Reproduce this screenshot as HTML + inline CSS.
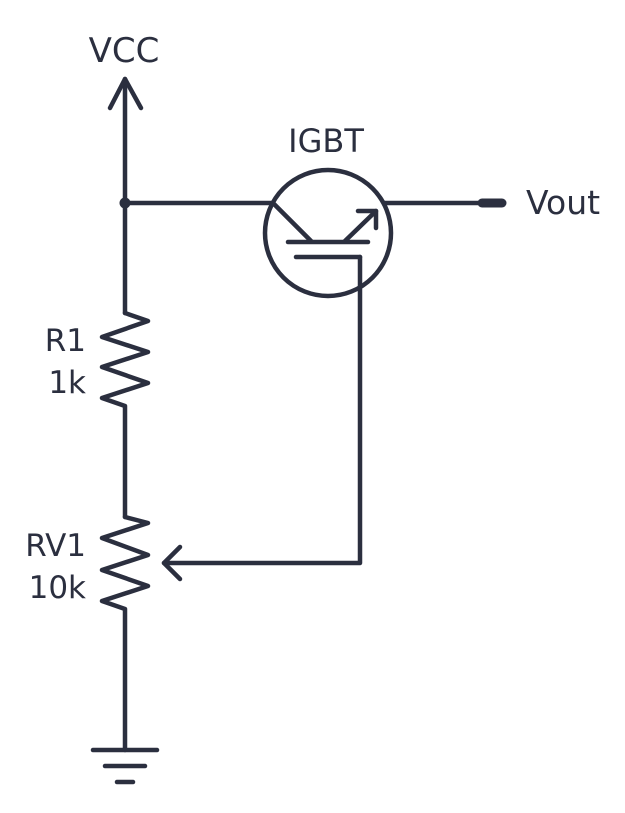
<!DOCTYPE html>
<html><head><meta charset="utf-8"><style>
html,body{margin:0;padding:0;background:#fff;}
svg{display:block;}
text{font-family:"DejaVu Sans","Liberation Sans",sans-serif;fill:#2b2f3f;}
</style></head><body>
<svg width="625" height="813" viewBox="0 0 625 813" xmlns="http://www.w3.org/2000/svg">
<g stroke="#2b2f3f" stroke-width="4.5" fill="none" stroke-linecap="round" stroke-linejoin="round">
  <line x1="125" y1="79" x2="125" y2="313"/>
  <polyline points="110,108 125,79 141,108"/>
  <polyline points="125,313 148,321 102,337 148,352 102,367 148,383 102,398 125,406 125,517"/>
  <polyline points="125,517 148,523 102,538 148,555 102,570 148,586 102,601 125,609 125,750"/>
  <line x1="93" y1="750" x2="157" y2="750"/>
  <line x1="105" y1="766" x2="145" y2="766"/>
  <line x1="117" y1="782" x2="133" y2="782"/>
  <polyline points="360,257 360,563 164,563"/>
  <polyline points="180,547 164,563 180,579"/>
  <line x1="125" y1="203" x2="273" y2="203"/>
  <circle cx="328" cy="233" r="63"/>
  <line x1="273" y1="203" x2="311" y2="241"/>
  <line x1="288" y1="242" x2="368" y2="242"/>
  <line x1="345" y1="241" x2="376" y2="211"/>
  <polyline points="358,211 376,211 376,228"/>
  <line x1="296" y1="257" x2="360" y2="257"/>
  <line x1="384" y1="203" x2="482" y2="203"/>
</g>
<line x1="482" y1="203" x2="502" y2="203" stroke="#2b2f3f" stroke-width="9" stroke-linecap="round"/>
<circle cx="125" cy="203" r="5.5" fill="#2b2f3f"/>
<text x="124" y="62" font-size="34" text-anchor="middle">VCC</text>
<text x="326" y="152" font-size="32" text-anchor="middle">IGBT</text>
<text x="526" y="214" font-size="33">Vout</text>
<text x="86" y="351" font-size="31" text-anchor="end">R1</text>
<text x="86" y="393" font-size="31" text-anchor="end">1k</text>
<text x="86" y="556" font-size="31" text-anchor="end">RV1</text>
<text x="86" y="598" font-size="31" text-anchor="end">10k</text>
</svg>
</body></html>
